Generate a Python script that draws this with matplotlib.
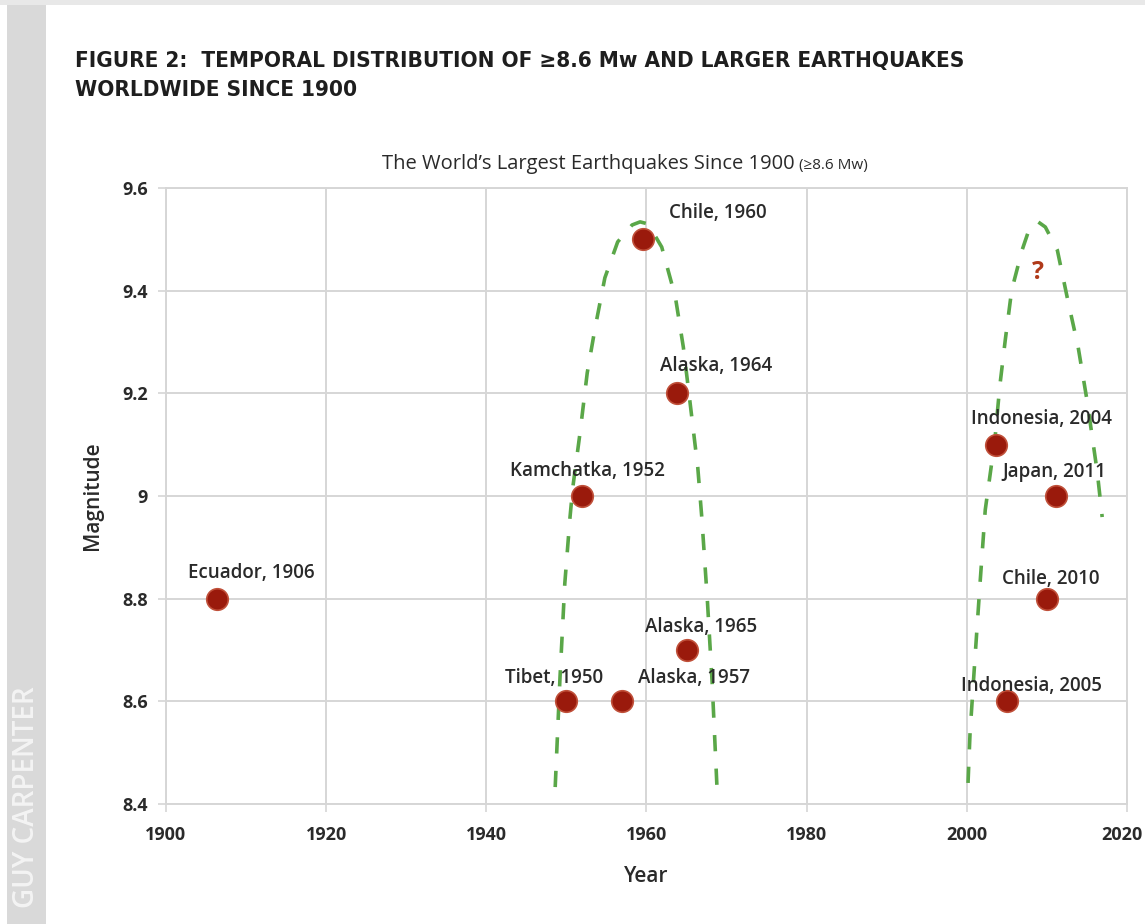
import matplotlib
matplotlib.use("Agg")
import matplotlib.pyplot as plt
import matplotlib.font_manager as fm
import matplotlib.transforms as mtransforms
from matplotlib.patches import Rectangle

# ---------------- data ----------------
quake_names = ["Ecuador, 1906", "Tibet, 1950", "Kamchatka, 1952", "Alaska, 1957",
               "Chile, 1960", "Alaska, 1964", "Alaska, 1965", "Indonesia, 2004",
               "Indonesia, 2005", "Chile, 2010", "Japan, 2011"]
quake_years = [1906.4, 1950.0, 1952.0, 1957.0, 1959.6, 1963.8, 1965.0,
               2003.7, 2005.0, 2010.0, 2011.1]
quake_mags = [8.8, 8.6, 9.0, 8.6, 9.5, 9.2, 8.7, 9.1, 8.6, 8.8, 9.0]

# hand-drawn dashed "cycle" arcs
arc1_years = [1948.6, 1949.2, 1949.8, 1950.45, 1950.8, 1951.7, 1952.6, 1953.6,
              1954.8, 1956.4, 1958.2, 1959.2, 1960.2, 1961.9, 1963.6, 1964.6,
              1965.4, 1966.4, 1966.9, 1967.6, 1968.2, 1968.8]
arc1_mags = [8.433, 8.647, 8.830, 8.959, 9.017, 9.123, 9.240, 9.329,
             9.425, 9.495, 9.528, 9.534, 9.530, 9.485, 9.388, 9.290,
             9.187, 9.056, 8.959, 8.797, 8.636, 8.433]
arc2_years = [2000.15, 2000.4, 2001.0, 2001.65, 2002.3, 2003.5, 2004.1, 2004.8,
              2005.6, 2006.9, 2007.9, 2008.9, 2009.8, 2011.3, 2012.6, 2013.9,
              2015.0, 2016.3, 2016.9]
arc2_mags = [8.441, 8.538, 8.680, 8.830, 8.973, 9.109, 9.212, 9.304,
             9.401, 9.479, 9.525, 9.534, 9.524, 9.479, 9.382, 9.290,
             9.187, 9.045, 8.959]

x_ticks = [1900, 1920, 1940, 1960, 1980, 2000, 2020]
y_ticks = [8.4, 8.6, 8.8, 9.0, 9.2, 9.4, 9.6]
y_tick_labels = ["8.4", "8.6", "8.8", "9", "9.2", "9.4", "9.6"]

title_line1 = "FIGURE 2:  TEMPORAL DISTRIBUTION OF \u22658.6 Mw AND LARGER EARTHQUAKES"
title_line2 = "WORLDWIDE SINCE 1900"
subtitle_main = "The World\u2019s Largest Earthquakes Since 1900"
subtitle_small = " (\u22658.6 Mw)"

# ---------------- layout ----------------
label_offsets = [(34, 26), (-12, 23), (5, 25), (72, 23), (75, 26), (39, 27),
                 (15, 23), (45, 26), (25, 15), (4, 20), (-1, 24)]

TXT = "#2a2a2a"
GRID = "#d6d6d6"
DOT = "#9a1a0c"
GREEN = "#5aa748"
SANS = ["Open Sans", "DejaVu Sans"]

# find a condensed bold font for the title if one exists
title_fp = None
for f in fm.fontManager.ttflist:
    nm = (f.name + " " + f.fname).lower()
    if ("condensed" in nm or "narrow" in nm) and str(f.weight) in ("bold", "700", "600", "semibold"):
        title_fp = fm.FontProperties(fname=f.fname)
        break
if title_fp is None:
    title_fp = fm.FontProperties(family="Lato", weight="bold")

W, H = 1145, 924
fig = plt.figure(figsize=(W / 100, H / 100), dpi=100)
fig.patch.set_facecolor("white")
renderer = fig.canvas.get_renderer()

fig.patches.append(Rectangle((7 / W, 0), 39 / W, 1, transform=fig.transFigure,
                             facecolor="#d9d9d9", edgecolor="none", zorder=0))
fig.patches.append(Rectangle((0, 1 - 5 / H), 1, 5 / H, transform=fig.transFigure,
                             facecolor="#e8e8e8", edgecolor="none", zorder=0))
fig.text(27 / W, 1 - 797 / H, "GUY CARPENTER", rotation=90, color="#f4f4f4",
         fontsize=20, fontweight="semibold", ha="center", va="center", family=SANS)

# titles, fitted to the reference width
t1 = fig.text(75 / W, 1 - 61 / H, title_line1, ha="left", va="center",
              fontproperties=title_fp, fontsize=18, color="#1e1e1e")
t2 = fig.text(75 / W, 1 - 90 / H, title_line2, ha="left", va="center",
              fontproperties=title_fp, fontsize=18, color="#1e1e1e")
w1 = t1.get_window_extent(renderer).width
size = 18 * 890 / w1
t1.set_fontsize(size)
t2.set_fontsize(size)

ax = fig.add_axes([166 / W, 1 - 804 / H, 961 / W, 616 / H])
ax.set_xlim(1900, 2020)
ax.set_ylim(8.4, 9.6)

# subtitle (main part + smaller parenthetical)
s1 = fig.text(0, 1 - 164 / H, subtitle_main, ha="left", va="center",
              fontsize=14.5, color=TXT, family=SANS)
s2 = fig.text(0, 1 - 165 / H, subtitle_small, ha="left", va="center",
              fontsize=11, color=TXT, family=SANS)
wa = s1.get_window_extent(renderer).width
wb = s2.get_window_extent(renderer).width
x0 = 625 - (wa + wb) / 2
s1.set_x(x0 / W)
s2.set_x((x0 + wa) / W)

ax.set_xticks(x_ticks)
ax.set_yticks(y_ticks)
ax.set_yticklabels(y_tick_labels)
for lab in ax.get_xticklabels() + ax.get_yticklabels():
    lab.set_fontsize(13)
    lab.set_fontweight("bold")
    lab.set_color(TXT)
    lab.set_family(SANS)
ax.tick_params(axis="both", colors=GRID, labelcolor=TXT, length=6, width=1.2)
ax.tick_params(axis="y", pad=7)
ax.tick_params(axis="x", pad=10)
# keep the last x label inside the figure
last = ax.get_xticklabels()[-1]
last.set_transform(last.get_transform() +
                   mtransforms.ScaledTranslation(-5 / 100, 0, fig.dpi_scale_trans))

ax.grid(True, color=GRID, linewidth=1.4)
ax.set_axisbelow(True)
for sp in ax.spines.values():
    sp.set_color(GRID)
    sp.set_linewidth(1.4)

ax.set_xlabel("Year", fontsize=15, fontweight="semibold", color=TXT,
              family=SANS, labelpad=16)
ax.set_ylabel("Magnitude", fontsize=15, fontweight="semibold", color=TXT,
              family=SANS, labelpad=14)

for xs, ys in [(arc1_years, arc1_mags), (arc2_years, arc2_mags)]:
    ax.plot(xs, ys, color=GREEN, linewidth=2.6, dashes=(4.5, 4.8), zorder=2,
            dash_capstyle="butt")

ax.scatter(quake_years, quake_mags, s=240, color=DOT, edgecolor="#c0503a",
           linewidth=1.2, zorder=3)

for name, x, y, off in zip(quake_names, quake_years, quake_mags, label_offsets):
    ax.annotate(name, (x, y), xytext=off, textcoords="offset pixels",
                ha="center", va="center", fontsize=13.5, fontweight="semibold",
                color=TXT, family=SANS, zorder=4)

ax.text(2008.9, 9.435, "?", ha="center", va="center", fontsize=18,
        fontweight="bold", color="#b03a1a", family=SANS)

fig.savefig("out.png", dpi=100, facecolor="white")
